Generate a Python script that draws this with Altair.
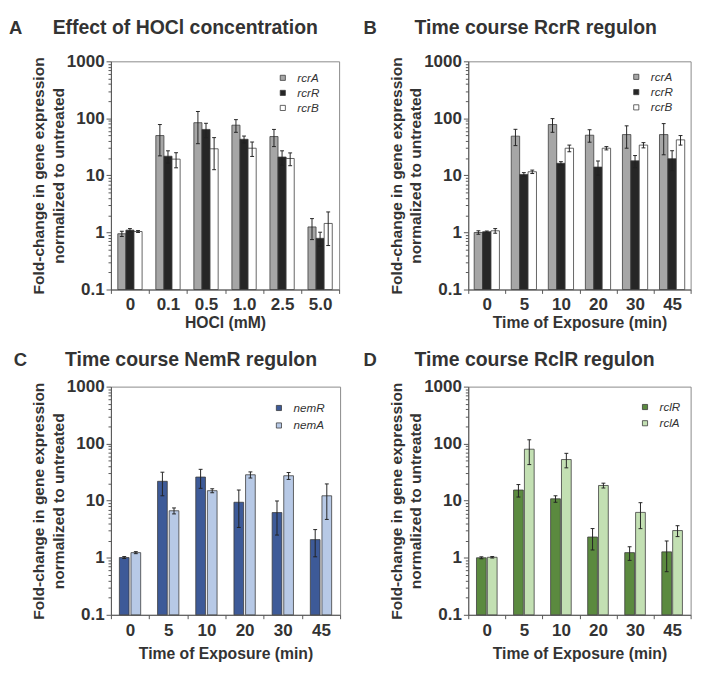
import json
import altair as alt
import pandas as pd

FONT = "Liberation Sans"
TXT = "#333333"

hocl_cats = ["0", "0.1", "0.5", "1.0", "2.5", "5.0"]
time_cats = ["0", "5", "10", "20", "30", "45"]

# Panel A: effect of HOCl concentration
a_genes = ["rcrA", "rcrR", "rcrB"]
a_colors = ["#a6a6a6", "#262626", "#ffffff"]
a_rcrA = [0.95, 50, 84, 76, 48, 1.25]
a_rcrA_sd = [0.10, 28, 48, 19, 16, 0.5]
a_rcrR = [1.10, 21.7, 64, 43, 21, 0.79]
a_rcrR_sd = [0.07, 5.3, 18, 6, 6, 0.22]
a_rcrB = [1.04, 19.3, 29.3, 30, 19.8, 1.44]
a_rcrB_sd = [0.04, 5.7, 16.7, 8.5, 5, 0.85]

# Panel B: time course RcrR regulon
b_genes = ["rcrA", "rcrR", "rcrB"]
b_colors = ["#a6a6a6", "#262626", "#ffffff"]
b_rcrA = [1.00, 48.8, 78, 50.7, 52, 52]
b_rcrA_sd = [0.07, 15.5, 21, 12.5, 22, 29]
b_rcrR = [1.03, 10.4, 16.3, 14, 18, 19.6]
b_rcrR_sd = [0.03, 0.8, 1.1, 3.9, 4.3, 7.5]
b_rcrB = [1.07, 11.6, 30, 30, 34, 42]
b_rcrB_sd = [0.10, 0.8, 4, 2, 3.6, 8]

# Panel C: time course NemR regulon
c_genes = ["nemR", "nemA"]
c_colors = ["#3d5a98", "#b7c9e6"]
c_nemR = [1.01, 21.9, 26, 9.4, 6.2, 2.08]
c_nemR_sd = [0.04, 9.7, 9.5, 6, 3.7, 1.04]
c_nemA = [1.23, 6.67, 15, 28.5, 27.4, 12.2]
c_nemA_sd = [0.05, 0.8, 1.2, 3.5, 3.8, 7.5]

# Panel D: time course RclR regulon
d_genes = ["rclR", "rclA"]
d_colors = ["#5b8a3f", "#c3e0b3"]
d_rclR = [1.00, 15.4, 10.8, 2.31, 1.23, 1.27]
d_rclR_sd = [0.04, 3.8, 1.4, 0.94, 0.33, 0.70]
d_rclA = [1.02, 80, 52.7, 18.5, 6.24, 3.0]
d_rclA_sd = [0.03, 37, 15, 1.8, 3.0, 0.65]

minor_ticks = [round(m * 10 ** e, 6) for e in range(-1, 3) for m in range(1, 10)] + [1000]
is_decade = "indexof([0.1,1,10,100,1000], datum.value) >= 0"


def panel(cats, genes, means, sds, colors, letter, title, xtitle, width, bar_w, bar_gap,
          legend_x, legend_y, row_pad, letter_x, title_x, title_y, xtitle_pad):
    n = len(genes)
    group_w = n * bar_w + (n - 1) * bar_gap
    rows = []
    for j, (g, m, s) in enumerate(zip(genes, means, sds)):
        for i, (c, mv, sv) in enumerate(zip(cats, m, s)):
            x0 = i - group_w / 2 + j * (bar_w + bar_gap)
            rows.append({"cat": c, "gene": g, "mean": mv, "lo": mv - sv, "hi": mv + sv,
                         "x0": x0, "x1": x0 + bar_w, "xc": x0 + bar_w / 2})
    df = pd.DataFrame(rows)

    step = width / len(cats)
    bounds = [i - 0.5 for i in range(len(cats) + 1)]
    label_expr = ("datum.value < %d ? %s[round(datum.value + 0.5)] : ''"
                  % (len(cats) - 1, json.dumps(cats)))
    xaxis = alt.Axis(title=xtitle, values=bounds, labelExpr=label_expr,
                     labelOffset=step / 2, labelFlush=False, labelOverlap=False,
                     labelAngle=0, tickSize=4, labelPadding=3,
                     titlePadding=xtitle_pad, titleFontSize=16.2)
    xscale = alt.Scale(domain=[-0.5, len(cats) - 0.5], nice=False, zero=False)
    yaxis = alt.Axis(title=["Fold-change in gene expression", "normalized to untreated"],
                     values=minor_ticks,
                     labelExpr=is_decade + " ? format(datum.value, '~g') : ''",
                     tickSize={"condition": {"test": is_decade, "value": 5}, "value": 3},
                     titleFontSize=16, titleLineHeight=20, titlePadding=0,
                     labelPadding=2, labelOverlap=False)
    yscale = alt.Scale(type="log", domain=[0.1, 1000])
    base = alt.Chart(df)
    bars = base.mark_bar(stroke="#3a3a3a", strokeWidth=0.8).encode(
        x=alt.X("x0:Q", scale=xscale, axis=xaxis),
        x2="x1:Q",
        y=alt.Y("mean:Q", scale=yscale, axis=yaxis),
        y2=alt.value("height"),
        color=alt.Color("gene:N", sort=genes,
                        scale=alt.Scale(domain=genes, range=colors),
                        legend=alt.Legend(title=None, orient="none",
                                          legendX=legend_x, legendY=legend_y,
                                          symbolType="square", symbolSize=28,
                                          symbolStrokeColor="#3a3a3a",
                                          symbolStrokeWidth=0.8,
                                          labelFont=FONT, labelFontStyle="italic",
                                          labelFontSize=12, labelColor=TXT,
                                          labelOffset=9, rowPadding=row_pad,
                                          padding=0)),
    )
    xc = alt.X("xc:Q", scale=xscale, axis=xaxis)
    rules = base.mark_rule(color="#222222", strokeWidth=1).encode(
        x=xc, y=alt.Y("lo:Q", scale=yscale, axis=yaxis), y2="hi:Q")
    cap = "M -1 0 L 1 0"
    cap_hi = base.mark_point(shape=cap, size=16, color="#222222", strokeWidth=1,
                             filled=False, opacity=1).encode(
        x=xc, y=alt.Y("hi:Q", scale=yscale, axis=yaxis))
    cap_lo = base.mark_point(shape=cap, size=16, color="#222222", strokeWidth=1,
                             filled=False, opacity=1).encode(
        x=xc, y=alt.Y("lo:Q", scale=yscale, axis=yaxis))
    tdf = pd.DataFrame({"letter": [letter], "title": [title]})
    letter_mark = alt.Chart(tdf).mark_text(
        align="left", baseline="alphabetic", font=FONT, fontSize=19,
        fontWeight="bold", color=TXT).encode(
        x=alt.value(letter_x), y=alt.value(title_y), text="letter:N")
    title_mark = alt.Chart(tdf).mark_text(
        align="left", baseline="alphabetic", font=FONT, fontSize=20,
        fontWeight="bold", color=TXT).encode(
        x=alt.value(title_x), y=alt.value(title_y), text="title:N")
    return alt.layer(bars, rules, cap_hi, cap_lo, letter_mark, title_mark).properties(
        width=width, height=235)


pA = panel(hocl_cats, a_genes, [a_rcrA, a_rcrR, a_rcrB], [a_rcrA_sd, a_rcrR_sd, a_rcrB_sd],
           a_colors, "A", "Effect of HOCl concentration", "HOCl (mM)", 235,
           0.213, 0.0, 171, 11, 3.5, -105, -60, -28, 1.3)
pB = panel(time_cats, b_genes, [b_rcrA, b_rcrR, b_rcrB], [b_rcrA_sd, b_rcrR_sd, b_rcrB_sd],
           b_colors, "B", "Time course RcrR regulon", "Time of Exposure (min)", 229,
           0.227, 0.0, 167, 10, 3.7, -108, -55.3, -28, 1.3)
pC = panel(time_cats, c_genes, [c_nemR, c_nemA], [c_nemR_sd, c_nemA_sd],
           c_colors, "C", "Time course NemR regulon", "Time of Exposure (min)", 236,
           0.254, 0.05, 167, 16, 6, -100, -47.3, -21.3, 8)
pD = panel(time_cats, d_genes, [d_rclR, d_rclA], [d_rclR_sd, d_rclA_sd],
           d_colors, "D", "Time course RclR regulon", "Time of Exposure (min)", 229,
           0.263, 0.03, 176, 15, 4.7, -108, -55.3, -21.3, 8)

chart = alt.concat(pA, pB, pC, pD, columns=2, bounds="flush", align="each",
                   spacing={"row": 100, "column": 132}).resolve_scale(
    color="independent"
).properties(
    padding={"left": 0, "top": 0, "right": 2, "bottom": 0}
).configure(font=FONT).configure_axis(
    labelFont=FONT, labelFontWeight="bold", labelFontSize=17.5, labelColor=TXT,
    titleFont=FONT, titleFontWeight="bold", titleColor=TXT,
    domainColor="#555555", tickColor="#555555", grid=False,
).configure_view(stroke="#888888", strokeWidth=1)

chart.save("out.html", embed_options={"renderer": "svg", "actions": False})
